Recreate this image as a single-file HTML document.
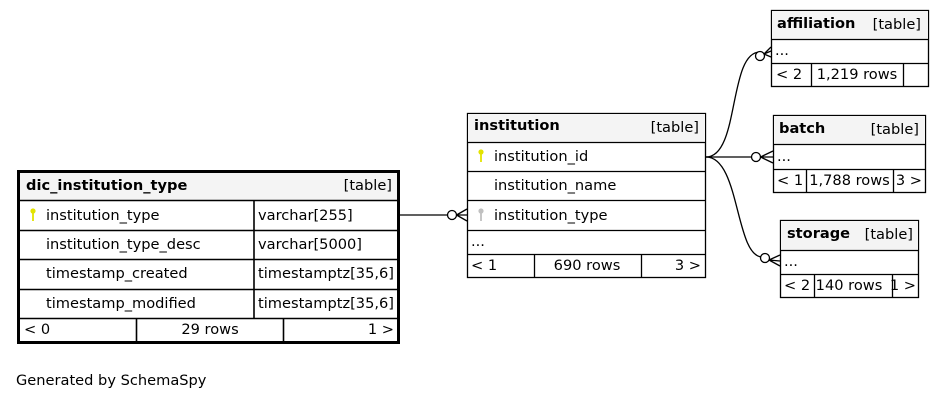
<!DOCTYPE html>
<html><head><meta charset="utf-8"><style>
html,body{margin:0;padding:0;background:#fff;width:944px;height:400px;overflow:hidden}
svg text{font-family:"DejaVu Sans","Liberation Sans",sans-serif;font-size:14.6px;fill:#000}
.b{font-weight:bold}
</style></head><body>
<svg width="944" height="400" viewBox="0 0 944 400" xmlns="http://www.w3.org/2000/svg">
<defs>
<g id="key"><circle cx="0" cy="-3" r="2.6"/><rect x="-0.9" y="-1" width="1.8" height="8"/></g>
</defs>
<!-- dic_institution_type -->
<rect x="18.5" y="171.5" width="380" height="171" fill="#fff" stroke="#000" stroke-width="3"/>
<rect x="20" y="173" width="377" height="27" fill="#f4f4f4"/>
<g stroke="#000" stroke-width="1.6" fill="none">
<line x1="20" y1="200.5" x2="397" y2="200.5"/>
<line x1="20" y1="230.5" x2="397" y2="230.5"/>
<line x1="20" y1="259.5" x2="397" y2="259.5"/>
<line x1="20" y1="289.5" x2="397" y2="289.5"/>
<line x1="20" y1="318.5" x2="397" y2="318.5"/>
<line x1="254" y1="200" x2="254" y2="318"/>
<line x1="136.5" y1="319" x2="136.5" y2="341"/>
<line x1="283.5" y1="319" x2="283.5" y2="341"/>
</g>
<text x="26" y="190" class="b">dic_institution_type</text>
<text x="392" y="190" text-anchor="end">[table]</text>
<g fill="#e3e300" transform="translate(33,214)"><use href="#key"/></g>
<text x="46" y="220">institution_type</text><text x="258" y="220">varchar[255]</text>
<text x="46" y="249">institution_type_desc</text><text x="258" y="249">varchar[5000]</text>
<text x="46" y="278">timestamp_created</text><text x="258" y="278">timestamptz[35,6]</text>
<text x="46" y="308">timestamp_modified</text><text x="258" y="308">timestamptz[35,6]</text>
<text x="24" y="334">&lt; 0</text><text x="210" y="334" text-anchor="middle">29 rows</text><text x="394" y="334" text-anchor="end">1 &gt;</text>

<!-- institution -->
<rect x="467.5" y="113.5" width="238" height="164" fill="#fff" stroke="#000" stroke-width="1.3"/>
<rect x="468" y="114" width="237" height="28" fill="#f4f4f4"/>
<g stroke="#000" stroke-width="1.3">
<line x1="467" y1="142.5" x2="706" y2="142.5"/>
<line x1="467" y1="171.5" x2="706" y2="171.5"/>
<line x1="467" y1="200.5" x2="706" y2="200.5"/>
<line x1="467" y1="230.5" x2="706" y2="230.5"/>
<line x1="467" y1="254.5" x2="706" y2="254.5"/>
<line x1="534.5" y1="255" x2="534.5" y2="277"/>
<line x1="641.5" y1="255" x2="641.5" y2="277"/>
</g>
<text x="474" y="130" class="b">institution</text>
<text x="699" y="132" text-anchor="end">[table]</text>
<g fill="#e3e300" transform="translate(481,155)"><use href="#key"/></g>
<text x="494" y="161">institution_id</text>
<text x="494" y="190">institution_name</text>
<g fill="#c0c0c0" transform="translate(481,214)"><use href="#key"/></g>
<text x="494" y="220">institution_type</text>
<text x="471" y="246">...</text>
<text x="471" y="270">&lt; 1</text><text x="587" y="270" text-anchor="middle">690 rows</text><text x="701" y="270" text-anchor="end">3 &gt;</text>

<!-- affiliation -->
<rect x="771.5" y="10.5" width="157" height="76" fill="#fff" stroke="#000" stroke-width="1.3"/>
<rect x="772" y="11" width="156" height="28" fill="#f4f4f4"/>
<g stroke="#000" stroke-width="1.3">
<line x1="771" y1="39.5" x2="929" y2="39.5"/><line x1="771" y1="63.5" x2="929" y2="63.5"/>
<line x1="811.5" y1="64" x2="811.5" y2="86"/><line x1="903.5" y1="64" x2="903.5" y2="86"/>
</g>
<text x="777" y="28" class="b">affiliation</text><text x="921" y="29" text-anchor="end">[table]</text>
<text x="775" y="55">...</text>
<text x="776" y="79">&lt; 2</text><text x="857" y="79" text-anchor="middle">1,219 rows</text>

<!-- batch -->
<rect x="773.5" y="115.5" width="152" height="77" fill="#fff" stroke="#000" stroke-width="1.3"/>
<rect x="774" y="116" width="151" height="28" fill="#f4f4f4"/>
<g stroke="#000" stroke-width="1.3">
<line x1="773" y1="144.5" x2="926" y2="144.5"/><line x1="773" y1="169.5" x2="926" y2="169.5"/>
<line x1="806.5" y1="170" x2="806.5" y2="192"/><line x1="893.5" y1="170" x2="893.5" y2="192"/>
</g>
<text x="779" y="133" class="b">batch</text><text x="919" y="134" text-anchor="end">[table]</text>
<text x="777" y="161">...</text>
<text x="777" y="185">&lt; 1</text><text x="849.5" y="185" text-anchor="middle">1,788 rows</text><text x="922" y="185" text-anchor="end">3 &gt;</text>

<!-- storage -->
<rect x="780.5" y="220.5" width="138" height="77" fill="#fff" stroke="#000" stroke-width="1.3"/>
<rect x="781" y="221" width="137" height="29" fill="#f4f4f4"/>
<g stroke="#000" stroke-width="1.3">
<line x1="780" y1="250.5" x2="919" y2="250.5"/><line x1="780" y1="274.5" x2="919" y2="274.5"/>
<line x1="814.5" y1="275" x2="814.5" y2="297"/><line x1="892.5" y1="275" x2="892.5" y2="297"/>
</g>
<text x="787" y="238" class="b">storage</text><text x="913" y="239" text-anchor="end">[table]</text>
<text x="784" y="266">...</text>
<text x="784" y="290">&lt; 2</text><text x="849" y="290" text-anchor="middle">140 rows</text><text x="916" y="290" text-anchor="end">1 &gt;</text>

<!-- connectors -->
<g stroke="#000" stroke-width="1.3" fill="none">
<line x1="400" y1="215" x2="447.5" y2="215"/>
<circle cx="452" cy="215" r="4.5" fill="#fff"/>
<path d="M456.5 215 L467 215 M456.5 215 L467 209 M456.5 215 L467 221"/>
<path d="M706 157 C 740 157, 728 52, 760 52"/>
<circle cx="760" cy="56" r="4.5" fill="#fff"/>
<path d="M764 54 L771 51 M764 54 L771 47 M764 54 L771 57"/>
<path d="M706 157 L751 157"/>
<circle cx="756" cy="157" r="4.5" fill="#fff"/>
<path d="M760.5 157 L773 157 M760.5 157 L773 151 M760.5 157 L773 163"/>
<path d="M706 157 C 740 157, 735 256, 762 257"/>
<circle cx="765" cy="258" r="4.5" fill="#fff"/>
<path d="M769 260 L780 261 M769 260 L780 255 M769 260 L780 266"/>
</g>

<text x="16" y="385">Generated by SchemaSpy</text>
</svg>
</body></html>
